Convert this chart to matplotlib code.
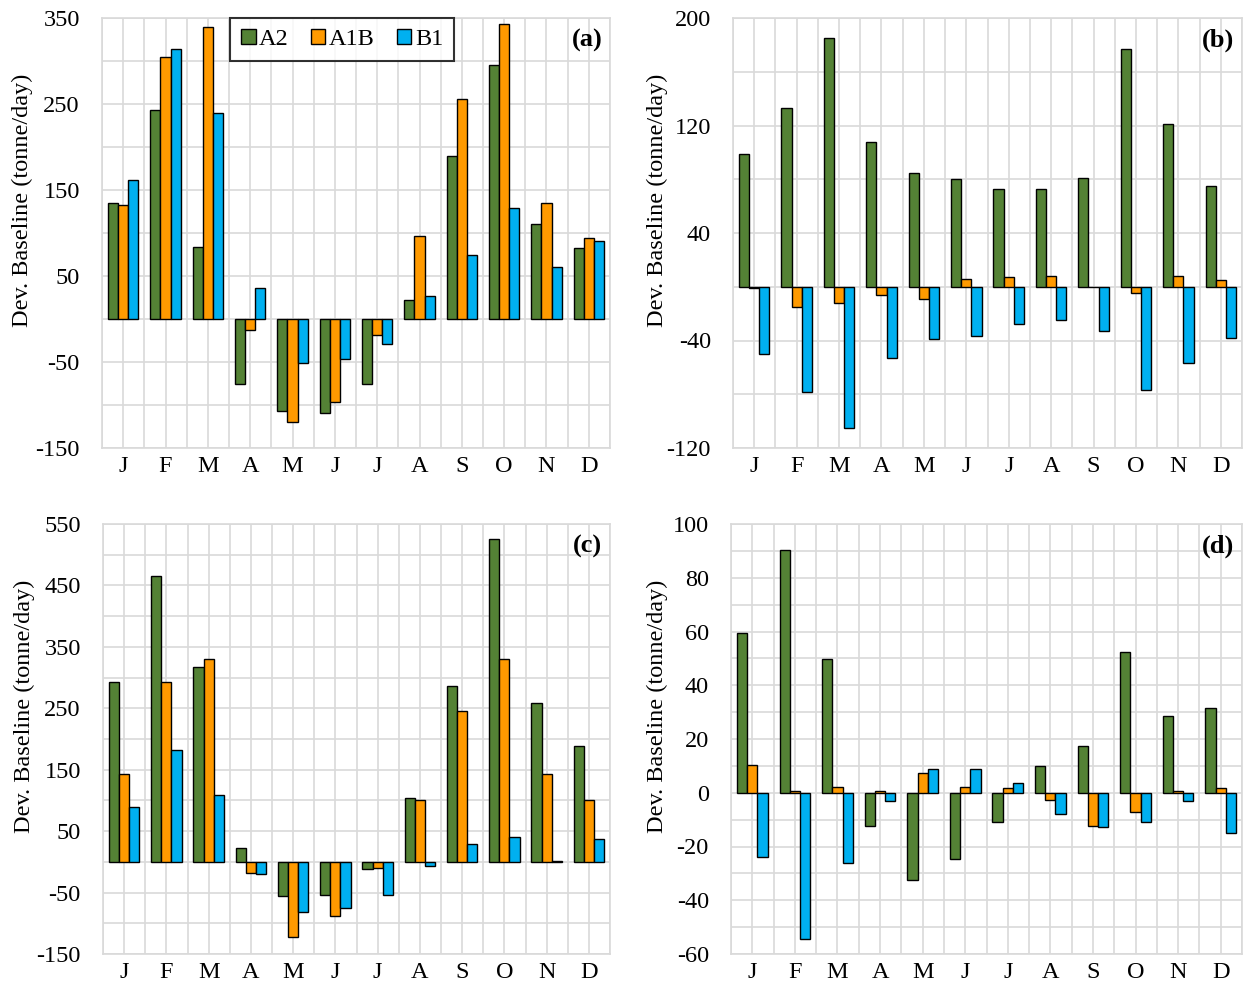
import numpy as np
import matplotlib
matplotlib.use("Agg")
import matplotlib.pyplot as plt
from matplotlib.patches import Patch

plt.rcParams['font.family'] = ['Liberation Serif', 'DejaVu Serif']

months = ["J", "F", "M", "A", "M", "J", "J", "A", "S", "O", "N", "D"]
series = ["A2", "A1B", "B1"]
colors = ["#548235", "#FF9A00", "#00B0F0"]

# Panel (a)
a_A2 = [135, 243, 84, -75, -107, -109, -75, 22, 189, 295, 110, 82]
a_A1B = [133, 305, 340, -13, -120, -97, -19, 97, 256, 343, 135, 94]
a_B1 = [162, 314, 240, 36, -51, -47, -29, 27, 74, 129, 61, 91]

# Panel (b)
b_A2 = [99, 133, 185, 108, 85, 80, 73, 73, 81, 177, 121, 75]
b_A1B = [-1, -15, -12, -6, -9, 6, 7, 8, 0, -5, 8, 5]
b_B1 = [-50, -78, -105, -53, -39, -37, -28, -25, -33, -77, -57, -38]

# Panel (c)
c_A2 = [293, 466, 317, 22, -56, -54, -12, 104, 287, 525, 259, 188]
c_A1B = [143, 293, 330, -18, -122, -88, -10, 101, 245, 330, 143, 101]
c_B1 = [90, 182, 109, -19, -81, -75, -54, -7, 29, 41, 1, 38]

# Panel (d)
d_A2 = [59.6, 90.4, 49.7, -12.4, -32.3, -24.8, -10.8, 9.9, 17.4, 52.5, 28.7, 31.7]
d_A1B = [10.3, 0.7, 2.2, 0.7, 7.5, 2.2, 1.9, -2.7, -12.4, -7.2, 0.6, 1.9]
d_B1 = [-24, -54.4, -26, -2.9, 8.8, 9, 3.7, -8, -12.7, -11, -2.9, -15]

panels = [
    ("(a)", [a_A2, a_A1B, a_B1], (-150, 350), 100, 50),
    ("(b)", [b_A2, b_A1B, b_B1], (-120, 200), 80, 40),
    ("(c)", [c_A2, c_A1B, c_B1], (-150, 550), 100, 50),
    ("(d)", [d_A2, d_A1B, d_B1], (-60, 100), 20, 10),
]

W, H = 1246, 986
fig = plt.figure(figsize=(W / 100, H / 100), dpi=100)

# pixel boxes: left, top, right, bottom
boxes = [(102, 18, 610, 448), (733, 18, 1242, 448),
         (103, 524, 610, 954), (731, 524, 1242, 954)]
# y-label anchor x position in pixels (right edge of rotated text)
label_x = [33, 668, 35, 668]

FS = 17.5
grid_c = "#D9D9D9"
bw = 0.24
x = np.arange(len(months))

for (lab, data, ylim, major, minor), (l, t, r, b), lx in zip(panels, boxes, label_x):
    ax = fig.add_axes([l / W, 1 - b / H, (r - l) / W, (b - t) / H])
    for i, (vals, c) in enumerate(zip(data, colors)):
        ax.bar(x + (i - 1) * bw, vals, width=bw, color=c, edgecolor="black",
               linewidth=1.0, zorder=3, label=series[i])
    ax.set_xlim(-0.5, len(months) - 0.5)
    ax.set_ylim(*ylim)
    ax.set_yticks(np.arange(ylim[0], ylim[1] + 0.1, major))
    ax.set_yticks(np.arange(ylim[0], ylim[1] + 0.1, minor), minor=True)
    ax.set_xticks(x)
    ax.set_xticklabels(months, fontsize=FS)
    ax.set_xticks(np.arange(-0.5, len(months), 1.0), minor=True)
    ax.tick_params(axis="y", which="major", labelsize=FS, length=0, pad=16)
    ax.tick_params(axis="x", which="major", length=0, pad=6)
    ax.tick_params(which="minor", length=0)
    ax.yaxis.set_major_formatter(matplotlib.ticker.FuncFormatter(lambda v, p: f"{v:g}"))
    ax.grid(True, which="both", color=grid_c, linewidth=1.2, zorder=0)
    ax.set_axisbelow(True)
    for s in ax.spines.values():
        s.set_color(grid_c)
        s.set_linewidth(1.2)
    ax.set_ylabel("Dev. Baseline (tonne/day)", fontsize=FS)
    ax.yaxis.set_label_coords((lx - l) / (r - l), 0.575)
    ax.text(0.985, 0.975, lab, transform=ax.transAxes, ha="right", va="top",
            fontsize=FS + 1.5, fontweight="bold")
    if lab == "(a)":
        handles = [Patch(facecolor=c, edgecolor="black", linewidth=1.0) for c in colors]
        leg = ax.legend(handles, series, loc="upper left", bbox_to_anchor=(0.252, 1.0),
                        ncol=3, fontsize=FS, frameon=True, fancybox=False,
                        edgecolor="black", handlelength=0.6, handleheight=0.6,
                        handletextpad=0.15, columnspacing=0.9, borderpad=0.45,
                        borderaxespad=0.0)
        leg.get_frame().set_linewidth(1.5)
        leg.set_zorder(5)

fig.savefig("out.png", dpi=100, facecolor="white")
